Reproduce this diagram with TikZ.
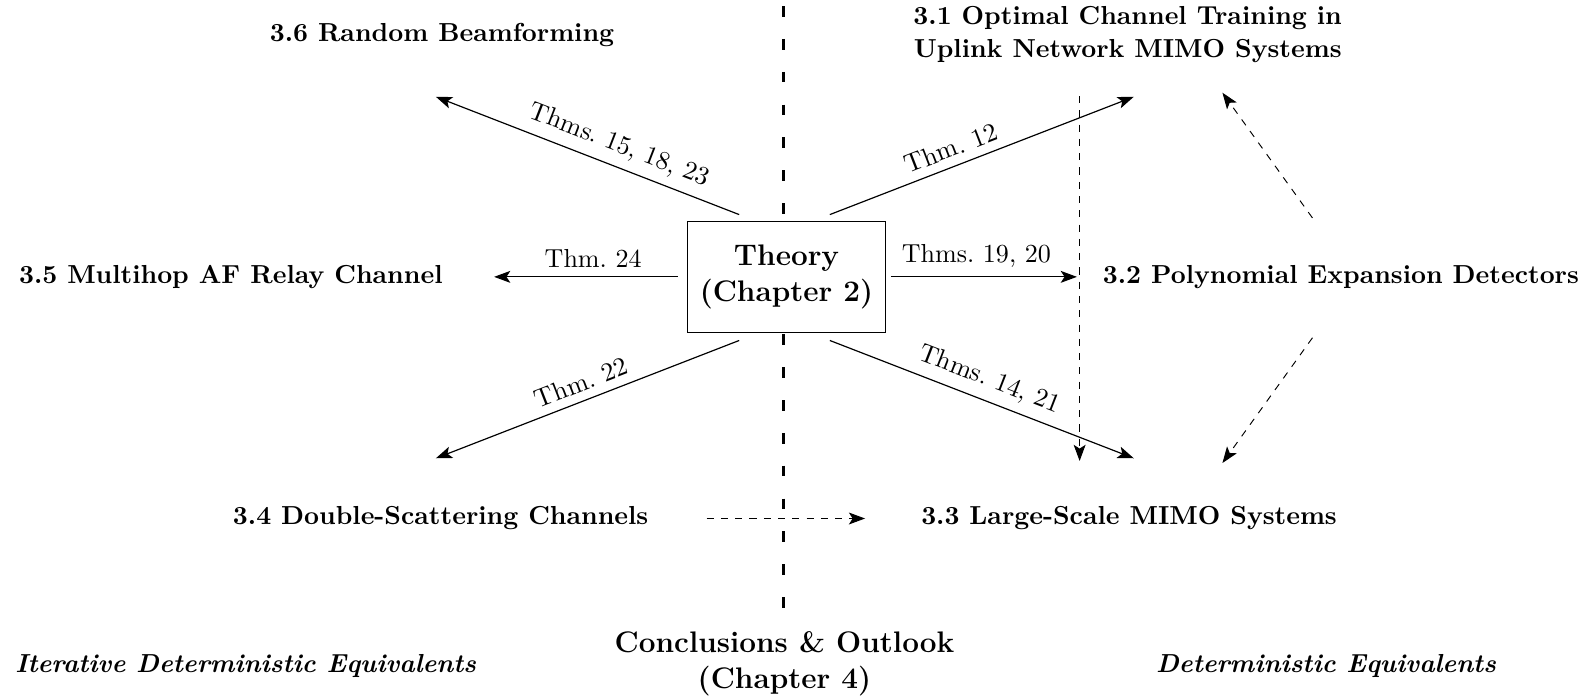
\documentclass[11pt,tikz,border=0pt]{standalone}
\usetikzlibrary{arrows.meta}

\begin{document}
\begin{tikzpicture}[>={Stealth[length=6.8pt, width=5pt, inset=1.6pt]},
    sect/.style={font=\bfseries, align=center},
    chap/.style={font=\fontsize{12.5}{15}\selectfont\bfseries, align=center},
    theo/.style={draw, fill=white, minimum width=2.93cm, minimum height=1.65cm,
      font=\fontsize{12.5}{15}\selectfont\bfseries, align=center},
    side/.style={font=\bfseries\itshape},
    divider/.style={line width=1.2pt, dash pattern=on 4.5pt off 9.3pt}]
  \useasboundingbox (-11.58,-6.23) rectangle (11.91,4.09);

  % dividing line between the two kinds of equivalents
  \coordinate (divtop) at (0,4.0);
  \coordinate (divbot) at (0,-4.89);
  \draw[divider] (divtop) -- (divbot);

  % chapters and sections
  \node[theo] (theory) at (0.04,0) {Theory\\(Chapter 2)};
  \node[sect] (beam) at (-5.05,3.57) {3.6 Random Beamforming};
  \node[sect] (train) at (5.08,3.58) {3.1 Optimal Channel Training in\\Uplink Network MIMO Systems};
  \node[sect] (relay) at (-8.17,0) {3.5 Multihop AF Relay Channel};
  \node[sect] (poly) at (8.23,0) {3.2 Polynomial Expansion Detectors};
  \node[sect] (double) at (-5.07,-3.56) {3.4 Double-Scattering Channels};
  \node[sect] (mimo) at (5.10,-3.56) {3.3 Large-Scale MIMO Systems};
  \node[chap] (outlook) at (0.01,-5.72) {Conclusions \& Outlook\\(Chapter 4)};
  \node[side] (ide) at (-7.95,-5.75) {Iterative Deterministic Equivalents};
  \node[side] (de) at (8.01,-5.75) {Deterministic Equivalents};

  % arrow ends
  \coordinate (t-nw) at (-0.66,0.92);
  \coordinate (t-ne) at (0.68,0.92);
  \coordinate (t-w) at (-1.57,0);
  \coordinate (t-e) at (1.58,0);
  \coordinate (t-sw) at (-0.66,-0.94);
  \coordinate (t-se) at (0.68,-0.94);
  \coordinate (beam-in) at (-5.14,2.66);
  \coordinate (train-in) at (5.17,2.66);
  \coordinate (relay-in) at (-4.28,0);
  \coordinate (poly-in) at (4.33,0);
  \coordinate (double-in) at (-5.14,-2.68);
  \coordinate (mimo-in) at (5.17,-2.68);
  \coordinate (train-out) at (4.37,2.67);
  \coordinate (mimo-top) at (4.37,-2.72);
  \coordinate (poly-up) at (7.81,0.87);
  \coordinate (train-up) at (6.48,2.72);
  \coordinate (poly-down) at (7.81,-0.90);
  \coordinate (mimo-up) at (6.48,-2.75);
  \coordinate (double-out) at (-1.14,-3.57);
  \coordinate (mimo-left) at (1.20,-3.57);

  \begin{scope}[->, line width=0.5pt]
    \draw (t-nw) -- node[above, sloped, pos=.42] {Thms.~15, 18, 23} (beam-in);
    \draw (t-ne) -- node[above, sloped, pos=.42] {Thm.~12} (train-in);
    \draw (t-w) -- node[above, pos=.46] {Thm.~24} (relay-in);
    \draw (t-e) -- node[above, pos=.46] {Thms.~19, 20} (poly-in);
    \draw (t-sw) -- node[above, sloped] {Thm.~22} (double-in);
    \draw (t-se) -- node[above, sloped] {Thms.~14, 21} (mimo-in);
  \end{scope}
  \begin{scope}[->, dashed]
    \draw (train-out) -- (mimo-top);
    \draw (poly-up) -- (train-up);
    \draw (poly-down) -- (mimo-up);
    \draw (double-out) -- (mimo-left);
  \end{scope}
\end{tikzpicture}
\end{document}
